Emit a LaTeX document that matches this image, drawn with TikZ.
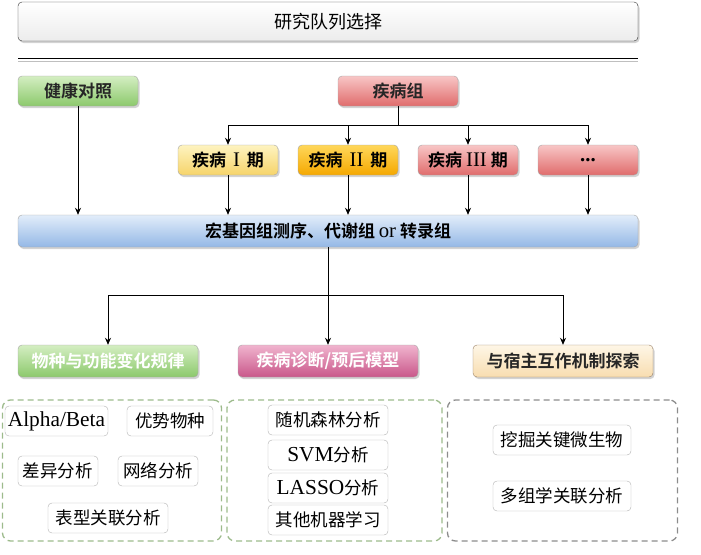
\documentclass[tikz,border=0pt]{standalone}
\usepackage{fontspec}
\setmainfont{Liberation Serif}[Scale=1.22]
\newfontfamily\cjk{Noto Sans CJK SC}[BoldFont={Noto Sans CJK SC Bold}]
\usetikzlibrary{arrows.meta,shadows}

\definecolor{ctrlTop}{HTML}{D4EEC2}
\definecolor{ctrlBot}{HTML}{8CC96C}
\definecolor{redTop}{HTML}{F8C6C6}
\definecolor{redBot}{HTML}{E06C6C}
\definecolor{yelTop}{HTML}{FEF3C0}
\definecolor{yelBot}{HTML}{F6D46A}
\definecolor{oraTop}{HTML}{FFD75A}
\definecolor{oraBot}{HTML}{F5A800}
\definecolor{bluTop}{HTML}{E2EDFA}
\definecolor{bluBot}{HTML}{94B8E6}
\definecolor{pnkTop}{HTML}{F0B4CE}
\definecolor{pnkBot}{HTML}{C9578A}
\definecolor{begTop}{HTML}{FEF6E6}
\definecolor{begBot}{HTML}{F8DDB0}
\definecolor{grnDash}{HTML}{9DBB8C}
\definecolor{gryDash}{HTML}{8C8C8C}

\newcommand{\en}[1]{{\rmfamily #1}}
\newcommand{\stg}[1]{疾病\hspace{7pt}\en{\mdseries #1}\hspace{7pt}期}

\begin{document}
\begin{tikzpicture}[x=1pt,y=-1pt,
  arr/.style={-{Stealth[length=7pt,width=6pt]},line width=0.8pt},
  link/.style={line width=0.8pt},
  shbox/.style={rounded corners=4pt,draw=#1,inner sep=0pt,
    drop shadow={opacity=0.35,shadow xshift=1.5pt,shadow yshift=-2pt},
    font=\cjk\bfseries\fontsize{17}{19}\selectfont},
  shbox/.default=gray!70,
  item/.style={rounded corners=4pt,draw=gray!60,fill=white,inner sep=0pt,
    minimum height=30pt,font=\cjk\fontsize{17.5}{19}\selectfont},
  grp/.style={rounded corners=8pt,dashed,dash pattern=on 6pt off 4pt,
    line width=1.3pt,inner sep=0pt}]
  \useasboundingbox (0,0) rectangle (701,554);

  % title and rule
  \node[shbox=black!80,bottom color=gray!15,top color=white,
    font=\cjk\fontsize{18}{20}\selectfont,
    minimum width=620pt,minimum height=39pt] (sel) at (328,21.5) {研究队列选择};
  \draw[line width=0.9pt] (18,58) -- (638,58);
  \draw[gray!50,line width=0.6pt] (18,61) -- (638,61);

  % cohorts
  \node[shbox,top color=ctrlTop,bottom color=ctrlBot,text=black!85,
    minimum width=120pt,minimum height=30pt] (ctrl) at (78,91) {健康对照};
  \node[shbox,top color=redTop,bottom color=redBot,text=black!85,
    minimum width=120pt,minimum height=30pt] (dis) at (398,91) {疾病组};

  % disease stages
  \node[shbox,top color=yelTop,bottom color=yelBot,
    minimum width=100pt,minimum height=30pt] (s1) at (228,160) {\stg{I}};
  \node[shbox,top color=oraTop,bottom color=oraBot,
    minimum width=100pt,minimum height=30pt] (s2) at (348,160) {\stg{II}};
  \node[shbox,top color=redTop,bottom color=redBot,
    minimum width=100pt,minimum height=30pt] (s3) at (468,160) {疾病\hspace{4pt}\en{\mdseries III}\hspace{4pt}期};
  \node[shbox,top color=redTop,bottom color=redBot,
    minimum width=100pt,minimum height=30pt] (s4) at (588,160) {\en{...}};

  % omics
  \node[shbox,top color=bluTop,bottom color=bluBot,
    minimum width=620pt,minimum height=32pt] (omics) at (328,231) {宏基因组测序、代谢组 \en{\mdseries or} 转录组};

  \coordinate (fork) at (398,125);
  \draw[link] (dis.south) -- (fork);
  \foreach \s in {s1,s2,s3,s4} {
    \draw[arr] (fork) -| (\s.north);
    \draw[arr] (\s.south) -- (\s.south |- omics.north);
  }
  \draw[arr] (ctrl.south) -- (ctrl.south |- omics.north);

  % research aims
  \node[shbox,top color=ctrlTop,bottom color=ctrlBot,text=white,
    minimum width=180pt,minimum height=32pt] (r1) at (108,361) {物种与功能变化规律};
  \node[shbox,top color=pnkTop,bottom color=pnkBot,text=white,
    minimum width=180pt,minimum height=32pt] (r2) at (328,361) {疾病诊断/预后模型};
  \node[shbox=gray!60!brown,top color=begTop,bottom color=begBot,text=black!85,
    minimum width=180pt,minimum height=32pt] (r3) at (563,361) {与宿主互作机制探索};

  \coordinate (split) at (328,295);
  \draw[link] (omics.south) -- (split);
  \draw[arr] (split) -| (r1.north);
  \draw[arr] (split) -- (r2.north);
  \draw[arr] (split) -| (r3.north);

  % dashed groups
  \node[grp,draw=grnDash,minimum width=219pt,minimum height=141pt] (g1) at (112,470.5) {};
  \node[grp,draw=grnDash,minimum width=215pt,minimum height=141pt] (g2) at (334.5,470.5) {};
  \node[grp,draw=gryDash,minimum width=230pt,minimum height=141pt] (g3) at (562.5,470.5) {};

  % methods
  \node[item,minimum width=103pt] (ab) at (56.5,421) {\en{Alpha/Beta}};
  \node[item,minimum width=86pt] (dom) at (170,421) {优势物种};
  \node[item,minimum width=80pt] (diff) at (58,471) {差异分析};
  \node[item,minimum width=80pt] (net) at (158,471) {网络分析};
  \node[item,minimum width=120pt] (pheno) at (108,518) {表型关联分析};

  \node[item,minimum width=120pt] (rf) at (328,420) {随机森林分析};
  \node[item,minimum width=120pt] (svm) at (328,455) {\en{SVM}分析};
  \node[item,minimum width=120pt] (lasso) at (328,488) {\en{LASSO}分析};
  \node[item,minimum width=120pt] (ml) at (328,520) {其他机器学习};

  \node[item,minimum width=138pt] (key) at (562,440) {挖掘关键微生物};
  \node[item,minimum width=138pt] (multi) at (562,496) {多组学关联分析};
\end{tikzpicture}
\end{document}
